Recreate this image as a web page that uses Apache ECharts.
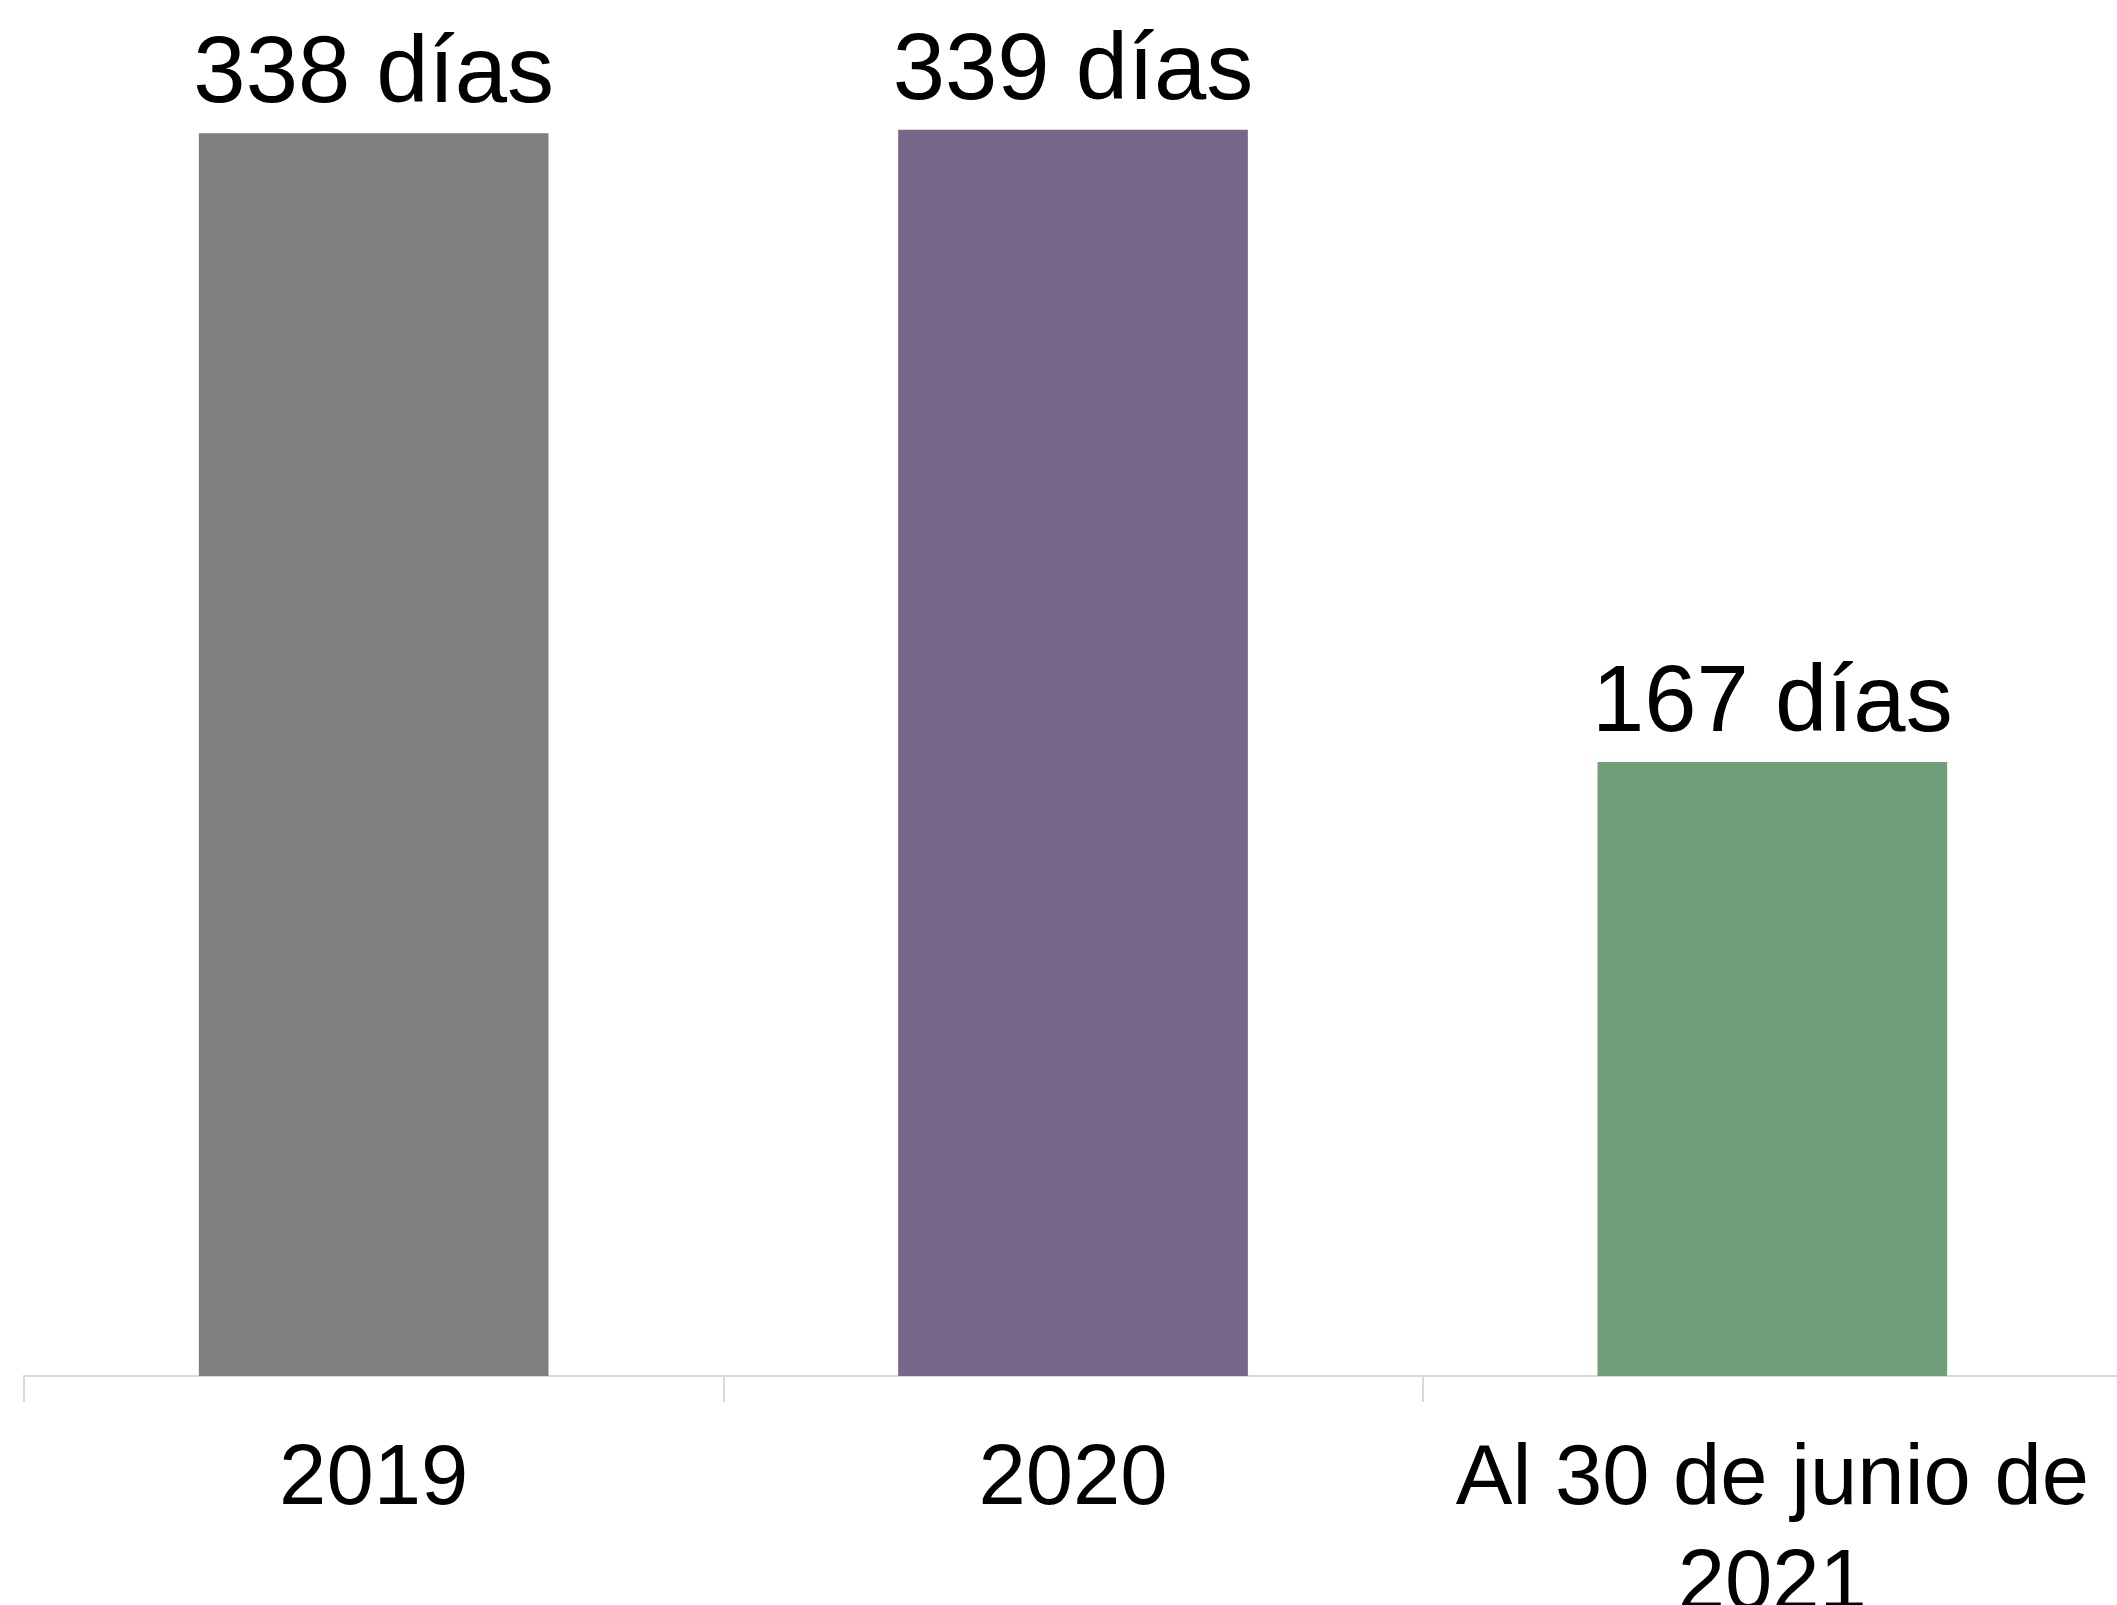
<!DOCTYPE html>
<html>
<head>
<meta charset="utf-8">
<script src="https://cdn.jsdelivr.net/npm/echarts@6/dist/echarts.min.js"></script>
<style>html,body{margin:0;padding:0;background:#fff;}#c{width:2117px;height:1605px;}</style>
</head>
<body>
<div id="c"></div>
<script>
const categories = ['2019', '2020', 'Al 30 de junio de\n2021'];
const values = [338, 339, 167];
const labels = ['338 días', '339 días', '167 días'];
const colors = ['#7f7f7f', '#76678b', '#70a07a'];

const chart = echarts.init(document.getElementById('c'), null, {renderer: 'canvas'});
chart.setOption({
  animation: false,
  backgroundColor: '#ffffff',
  grid: {left: 24, right: -5, top: 126, bottom: 229, containLabel: false, outerBoundsMode: 'none'},
  xAxis: {
    type: 'category',
    data: categories,
    axisLine: {show: true, lineStyle: {color: '#d9d9d9', width: 2}},
    axisTick: {show: true, length: 26, lineStyle: {color: '#d9d9d9', width: 2}},
    axisLabel: {
      color: '#000', fontFamily: 'Liberation Sans, Arial, sans-serif',
      fontSize: 85, lineHeight: 105, margin: 52, interval: 0
    }
  },
  yAxis: {
    type: 'value', min: 0, max: 340,
    show: false, splitLine: {show: false}
  },
  series: [{
    type: 'bar',
    barWidth: '50%',
    data: values.map((v, i) => ({value: v, itemStyle: {color: colors[i]}})),
    label: {
      show: true, position: 'top', distance: 10,
      color: '#000', fontFamily: 'Liberation Sans, Arial, sans-serif', fontSize: 94,
      formatter: p => labels[p.dataIndex]
    }
  }]
});
</script>
</body>
</html>
